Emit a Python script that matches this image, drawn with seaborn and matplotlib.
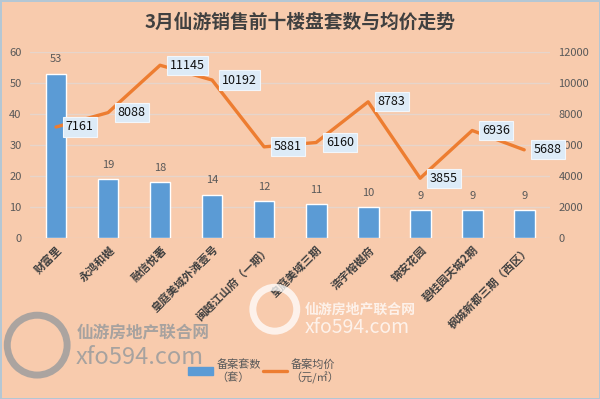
import matplotlib
matplotlib.use("Agg")
import matplotlib.pyplot as plt
import matplotlib.patches as mpatches
from matplotlib.lines import Line2D
import pandas as pd
import seaborn as sns
import numpy as np

# data
projects = ['财富里', '永鸿和樾', '融信悦著', '皇庭美域外滩壹号', '闽越江山府（一期）',
            '皇庭美域三期', '浩宇榕樾府', '锦安花园', '碧桂园天城2期', '枫城新都三期（西区）']
units = [53, 19, 18, 14, 12, 11, 10, 9, 9, 9]
avg_price = [7161, 8088, 11145, 10192, 5881, 6160, 8783, 3855, 6936, 5688]

df = pd.DataFrame({'项目': projects, '套数': units, '均价': avg_price, 'pos': np.arange(len(projects))})

sns.set_theme(style="white")
plt.rcParams['font.family'] = ['Noto Sans CJK SC', 'DejaVu Sans']

bg = '#F8CBAD'
bar_c = '#5B9BD5'
line_c = '#ED7D31'
txt_c = '#404040'

fig = plt.figure(figsize=(6, 3.99), dpi=100, facecolor=bg)
fig.patch.set_edgecolor('#B4C7D4')
fig.patch.set_linewidth(2)
ax = fig.add_axes([0.05, 0.4035, 0.867, 0.4662])
ax.set_facecolor(bg)

sns.barplot(data=df, x='项目', y='套数', color=bar_c, width=0.4, saturation=1, ax=ax, zorder=2)
ax.set_ylim(0, 60)
ax.set_yticks(range(0, 61, 10))
ax.set_xlim(-0.5, len(projects) - 0.5)
ax.grid(axis='y', color='#E6D5CB', linewidth=1, zorder=0)
ax.set_axisbelow(True)
for s in ax.spines.values():
    s.set_visible(False)
ax.set_xlabel('')
ax.set_ylabel('')
ax.tick_params(axis='y', colors='#595959', labelsize=8, length=0, pad=6)
ax.tick_params(axis='x', length=0, pad=4)
ax.set_xticks(range(len(projects)))
ax.set_xticklabels(projects, rotation=45, ha='right', rotation_mode='anchor',
                   fontsize=8, color=txt_c, fontweight='bold')

for i, v in enumerate(units):
    ax.text(i, v + 3, str(v), ha='center', va='bottom', fontsize=8, color='#595959')

ax2 = ax.twinx()
sns.lineplot(data=df, x='pos', y='均价', color=line_c, linewidth=2.4, ax=ax2, zorder=3)
ax2.set_ylim(0, 12000)
ax2.set_yticks(range(0, 12001, 2000))
ax2.set_xlim(-0.5, len(projects) - 0.5)
for s in ax2.spines.values():
    s.set_visible(False)
ax2.set_ylabel('')
ax2.set_xlabel('')
ax2.tick_params(axis='y', colors='#595959', labelsize=8, length=0, pad=6)
ax2.grid(False)

for i, v in enumerate(avg_price):
    ax2.annotate(str(v), (i, v), xytext=(7, 0), textcoords='offset points',
                 ha='left', va='center', fontsize=9, color='#111111', zorder=5,
                 bbox=dict(boxstyle='square,pad=0.25', facecolor='#DDEBF7',
                           edgecolor='#F2F7FC', linewidth=0.8))

fig.text(0.5, 0.945, '3月仙游销售前十楼盘套数与均价走势', ha='center', va='center',
         fontsize=13.5, color=txt_c, fontweight='bold')

handles = [mpatches.Patch(color=bar_c), Line2D([0], [0], color=line_c, linewidth=2.4)]
fig.legend(handles, ['备案套数\n（套）', '备案均价\n（元/㎡）'], loc='center',
           bbox_to_anchor=(0.44, 0.07), ncol=2, frameon=False, fontsize=8,
           labelcolor='#595959', handlelength=2.2, handletextpad=0.3, columnspacing=0.2)

# watermarks
for (cx, cy, r, col, a) in [(0.062, 0.135, 0.075, '#9E9E9E', 0.85), (0.458, 0.225, 0.055, 'white', 0.75)]:
    ring = mpatches.Ellipse((cx, cy), r * 2 * 0.665, r * 2, transform=fig.transFigure,
                            fill=False, edgecolor=col, linewidth=5, alpha=a, zorder=10)
    fig.add_artist(ring)
fig.text(0.128, 0.165, '仙游房地产联合网', fontsize=12, fontweight='bold', color='#9E9E9E',
         alpha=0.9, va='center', zorder=10)
fig.text(0.126, 0.105, 'xfo594.com', fontsize=17, color='#9E9E9E', alpha=0.9, va='center', zorder=10)
fig.text(0.508, 0.225, '仙游房地产联合网', fontsize=10, fontweight='bold', color='white',
         alpha=0.75, va='center', zorder=10)
fig.text(0.508, 0.178, 'xfo594.com', fontsize=14, color='white', alpha=0.75, va='center', zorder=10)

fig.savefig('out.png', dpi=100, facecolor=bg, edgecolor=fig.get_edgecolor())
